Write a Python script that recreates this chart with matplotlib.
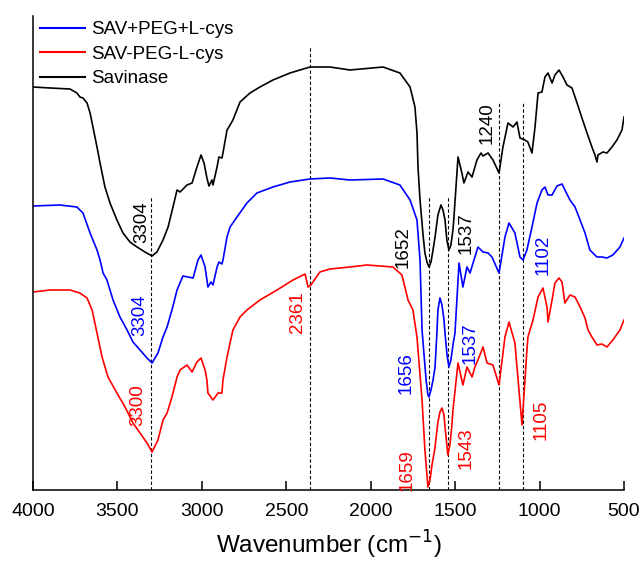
import matplotlib
matplotlib.use("Agg")
import matplotlib.pyplot as plt
from matplotlib.lines import Line2D

# spectra: wavenumber (cm-1) and transmittance (a.u., stacked)
savinase_wn = [4000, 3899, 3781, 3740, 3722, 3704, 3680, 3662, 3645, 3621, 3603, 3574, 3544,
               3503, 3467, 3426, 3384, 3337, 3295, 3266, 3230, 3200, 3171, 3147, 3129, 3088,
               3058, 3029, 3005, 2987, 2970, 2958, 2940, 2934, 2910, 2899, 2881, 2875, 2851,
               2833, 2816, 2774, 2715, 2656, 2579, 2478, 2360, 2241, 2123, 1927, 1827, 1767,
               1738, 1726, 1720, 1708, 1690, 1679, 1667, 1655, 1643, 1631, 1619, 1602, 1584,
               1572, 1560, 1549, 1537, 1525, 1513, 1507, 1483,
               1460, 1448, 1424, 1400, 1371, 1347, 1335, 1305, 1276, 1240, 1217, 1187, 1157,
               1134, 1116, 1087, 1069, 1045, 1027, 1009, 986, 968, 950, 926, 909, 885, 861,
               838, 808, 778, 749, 719, 690, 672, 660, 654, 625, 601, 571, 542, 512, 500]
savinase_t = [403, 402, 401, 397, 393, 392, 387, 377, 363, 343, 327, 303, 287,
              270, 257, 248, 243, 238, 234, 238, 250, 263, 283, 300, 298, 305,
              307, 323, 335, 327, 312, 304, 310, 305, 323, 333, 332, 337, 360,
              365, 370, 388, 397, 403, 410, 417, 423, 423, 420, 423, 417, 403,
              383, 357, 323, 290, 255, 237, 228, 223, 228, 240, 253, 275, 285,
              280, 270, 250, 240, 245, 260, 273, 333,
              317, 307, 318, 313, 330, 337, 334, 337, 330, 317, 343, 367, 363,
              368, 352, 350, 348, 337, 363, 397, 398, 413, 417, 407, 415, 420, 413,
              405, 402, 387, 372, 357, 343, 335, 328, 335, 338, 337, 343, 350, 360, 373]

mix_wn = [4000, 3840, 3740, 3704, 3662, 3621, 3603, 3585, 3562, 3526, 3485, 3443, 3408,
          3366, 3325, 3295, 3260, 3230, 3206, 3177, 3147, 3112, 3082, 3052, 3023, 3005,
          2981, 2964, 2946, 2934, 2910, 2899, 2881, 2875, 2851, 2833, 2792, 2733, 2674,
          2579, 2478, 2360, 2241, 2123, 1927, 1827, 1767, 1726, 1708, 1696, 1672, 1661,
          1655, 1643, 1631, 1619, 1608, 1602, 1590, 1578, 1566, 1560, 1548, 1537, 1525,
          1513, 1501, 1477, 1454, 1430, 1412, 1365, 1335, 1305, 1282, 1240,
          1205, 1181, 1146, 1116, 1098, 1075, 1045, 1015, 986, 968, 950, 926, 897, 867,
          850, 820, 790, 760, 731, 702, 660, 631, 601, 566, 524, 500]
mix_t = [284, 285, 283, 277, 257, 240, 230, 217, 210, 190, 173, 160, 148,
         140, 132, 127, 137, 153, 163, 180, 200, 214, 213, 212, 230, 235,
         223, 203, 208, 205, 223, 228, 226, 230, 253, 263, 273, 287, 297,
         303, 308, 311, 312, 310, 311, 305, 290, 270, 230, 160, 110, 95,
         93, 100, 110, 123, 157, 180, 192, 185, 170, 157, 135, 123, 130,
         145, 157, 227, 203, 223, 217, 243, 238, 237, 233, 217,
         253, 267, 257, 233, 230, 240, 263, 287, 300, 303, 295, 295, 304, 306,
         300, 290, 283, 270, 257, 240, 233, 233, 232, 235, 243, 252]

conj_wn = [4000, 3899, 3781, 3722, 3680, 3650, 3621, 3591, 3556, 3503, 3455, 3408, 3366,
           3325, 3295, 3260, 3230, 3206, 3177, 3147, 3129, 3088, 3058, 3029, 3005, 2981,
           2970, 2964, 2934, 2904, 2881, 2875, 2851, 2833, 2816, 2774, 2733, 2656, 2555,
           2460, 2389, 2371, 2354, 2342, 2301, 2241, 2123, 2022, 1868, 1815, 1779, 1750,
           1726, 1696, 1679, 1667, 1661, 1649, 1637, 1619, 1602, 1590, 1578, 1566, 1560,
           1549, 1543, 1531, 1519, 1513, 1483, 1454, 1430, 1400, 1383,
           1365, 1335, 1311, 1276, 1240, 1205, 1181, 1146, 1104, 1075, 1069, 1039, 1009,
           980, 956, 950, 926, 909, 885, 867, 850, 820, 790, 760, 731, 713, 690, 660,
           631, 601, 566, 524, 500]
conj_t = [198, 200, 200, 197, 192, 180, 157, 133, 113, 97, 83, 67, 57,
          47, 38, 50, 70, 77, 93, 113, 120, 125, 118, 128, 132, 120,
          110, 97, 90, 97, 97, 110, 133, 147, 160, 173, 180, 190, 200,
          210, 216, 203, 205, 208, 218, 221, 223, 225, 223, 215, 190, 180,
          153, 90, 40, 15, 3, 10, 25, 43, 68, 78, 82, 75, 63,
          45, 35, 45, 65, 80, 127, 105, 123, 113, 123,
          130, 143, 127, 125, 105, 153, 168, 147, 65, 140, 153, 170, 193,
          202, 183, 168, 190, 207, 212, 208, 187, 195, 193, 183, 172, 160, 153, 145,
          146, 143, 150, 160, 170]

# reference lines: position, top
ref_wn = [3300, 2361, 1655, 1540, 1240, 1100]
ref_top = [293, 443, 293, 293, 387, 387]

# peak labels: text, colour, x, y
peak_text = ["3304", "3304", "3300", "2361", "1652", "1537", "1240", "1102",
             "1656", "1537", "1659", "1543", "1105"]
peak_color = ["black", "blue", "red", "red", "black", "black", "black", "blue",
              "blue", "blue", "red", "red", "red"]
peak_x = [3354, 3366, 3378, 2431, 1809, 1436, 1311, 980, 1791, 1412, 1785, 1436, 992]
peak_y = [268, 175, 85, 178, 243, 257, 367, 235, 117, 147, 20, 42, 70]

plt.rcParams["font.family"] = ["Liberation Sans", "DejaVu Sans"]

fig = plt.figure(figsize=(6.44, 5.62), dpi=100)
ax = fig.add_axes([33 / 644, 72 / 562, 591 / 644, 474 / 562])

ax.vlines(ref_wn, 0, ref_top, colors="black", linestyles=(0, (3, 2)), linewidth=0.8)

ax.plot(savinase_wn, savinase_t, color="black", linewidth=1.2)
ax.plot(mix_wn, mix_t, color="blue", linewidth=1.2)
ax.plot(conj_wn, conj_t, color="red", linewidth=1.2)

for txt, col, x, y in zip(peak_text, peak_color, peak_x, peak_y):
    ax.text(x, y, txt, color=col, rotation=90, ha="center", va="center", fontsize=13.5)

ax.set_xlim(4000, 500)
ax.set_ylim(0, 474)
ax.set_xticks([4000, 3500, 3000, 2500, 2000, 1500, 1000, 500])
ax.set_yticks([])
ax.tick_params(axis="x", direction="in", length=6.5, width=1.1, labelsize=14, pad=9)
for side in ("top", "right"):
    ax.spines[side].set_visible(False)
for side in ("left", "bottom"):
    ax.spines[side].set_linewidth(1.1)
ax.set_xlabel("Wavenumber (cm$^{-1}$)", fontsize=17.5, labelpad=7)

handles = [Line2D([0], [0], color="blue", linewidth=1.5),
           Line2D([0], [0], color="red", linewidth=1.5),
           Line2D([0], [0], color="black", linewidth=1.5)]
labels = ["SAV+PEG+L-cys", "SAV-PEG-L-cys", "Savinase"]
fig.legend(handles, labels, loc="upper left", bbox_to_anchor=(40 / 644, 541 / 562), frameon=False,
           fontsize=13.5, handlelength=2.4, handletextpad=0.35, labelspacing=0.4, borderpad=0,
           borderaxespad=0)

fig.savefig("out.png", dpi=100)
